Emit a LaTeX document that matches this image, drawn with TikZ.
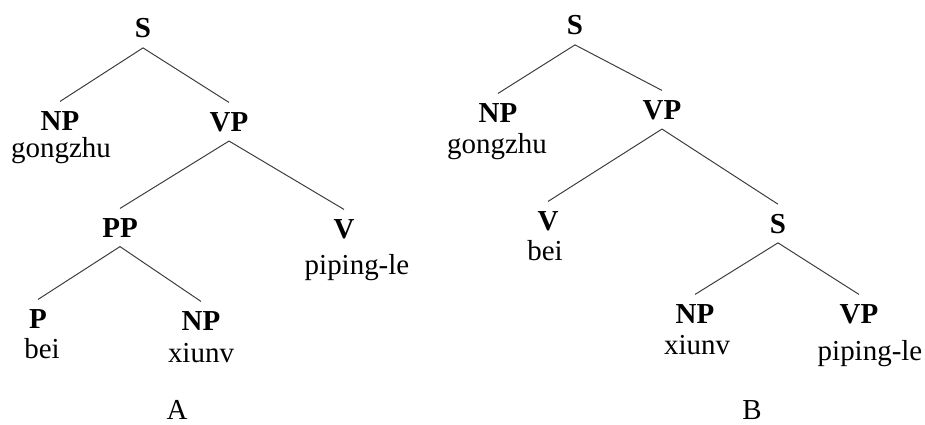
\documentclass[tikz,border=0pt]{standalone}
\usepackage{fontspec}
\setmainfont{Liberation Serif}
\usepackage{tikz}
\definecolor{branch}{RGB}{60, 60, 60}

\begin{document}
\begin{tikzpicture}[scale=1, line width=0.7pt,
  cat/.style={font=\fontsize{20.6}{24}\selectfont\bfseries, anchor=base,
    inner sep=0pt, outer sep=0pt, outer ysep=0.24cm},
  word/.style={font=\fontsize{20.6}{24}\selectfont, anchor=base, inner sep=0pt}]
  \useasboundingbox (0, 0) rectangle (23.125, -10.625);

  % tree A
  \node[cat] (sA) at (3.575, -0.95) {S};
  \node[cat] (npA) at (1.5, -3.25) {NP};
  \node[word] (gongzhuA) at (1.525, -3.93) {gongzhu};
  \node[cat] (vpA) at (5.725, -3.275) {VP};
  \node[cat] (ppA) at (3.0, -5.925) {PP};
  \node[cat] (vA) at (8.6, -5.95) {V};
  \node[word] (pipingA) at (8.925, -6.85) {piping-le};
  \node[cat] (pA) at (0.95, -8.2) {P};
  \node[word] (beiA) at (1.05, -8.95) {bei};
  \node[cat] (np2A) at (5.025, -8.25) {NP};
  \node[word] (xiunvA) at (5.025, -9.05) {xiunv};
  \node[word] (labelA) at (4.425, -10.48) {A};

  \draw[branch] (sA.south) -- (npA.north);
  \draw[branch] (sA.south) -- (vpA.north);
  \draw[branch] (vpA.south) -- (ppA.north);
  \draw[branch] (vpA.south) -- (vA.north);
  \draw[branch] (ppA.south) -- (pA.north);
  \draw[branch] (ppA.south) -- (np2A.north);

  % tree B
  \node[cat] (sB) at (14.375, -0.875) {S};
  \node[cat] (npB) at (12.45, -3.05) {NP};
  \node[word] (gongzhuB) at (12.425, -3.83) {gongzhu};
  \node[cat] (vpB) at (16.55, -2.975) {VP};
  \node[cat] (vB) at (13.7, -5.75) {V};
  \node[word] (beiB) at (13.625, -6.5) {bei};
  \node[cat] (s2B) at (19.45, -5.825) {S};
  \node[cat] (np2B) at (17.375, -8.075) {NP};
  \node[word] (xiunvB) at (17.425, -8.85) {xiunv};
  \node[cat] (vp2B) at (21.475, -8.075) {VP};
  \node[word] (pipingB) at (21.75, -9.0) {piping-le};
  \node[word] (labelB) at (18.8, -10.48) {B};

  \draw[branch] (sB.south) -- (npB.north);
  \draw[branch] (sB.south) -- (vpB.north);
  \draw[branch] (vpB.south) -- (vB.north);
  \draw[branch] (vpB.south) -- (s2B.north);
  \draw[branch] (s2B.south) -- (np2B.north);
  \draw[branch] (s2B.south) -- (vp2B.north);

\end{tikzpicture}
\end{document}
